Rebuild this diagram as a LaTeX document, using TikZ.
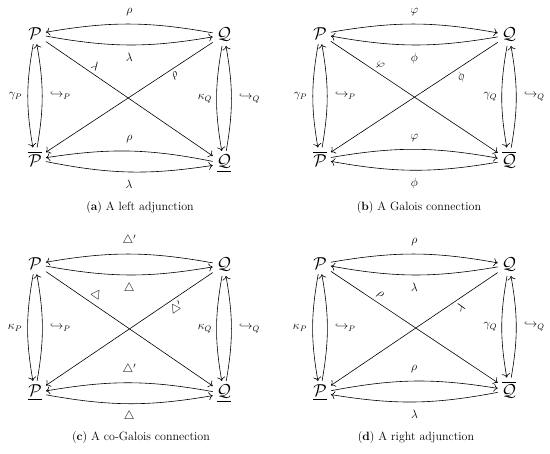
\documentclass[tikz,border=0pt]{standalone}
\usepackage{amsmath}
\usetikzlibrary{arrows.meta}
\tikzset{
  vtx/.style={font=\fontsize{17}{20}\selectfont, inner sep=4pt, anchor=base},
  lab/.style={font=\fontsize{12}{14}\selectfont, inner sep=1.5pt},
  arr/.style={line width=0.6pt, -{Computer Modern Rightarrow[length=4pt,width=8pt]}},
  bend angle=10,
  capt/.style={font=\fontsize{12}{14}\selectfont, inner sep=0pt},
}
\begin{document}
\begin{tikzpicture}[x=1pt,y=1pt]
\useasboundingbox (0,0) rectangle (550,-454);
% ---------- (a)
\begin{scope}
\node[vtx] (aP) at (35,-40) {$\mathcal{P}$};
\node[vtx] (aQ) at (224,-40) {$\mathcal{Q}$};
\node[vtx] (aL) at (35,-167) {$\overline{\mathcal{P}}$};
\node[vtx] (aR) at (224,-167) {$\underline{\mathcal{Q}}$};
\draw[arr] (aQ) to[bend right] node[lab, above=6pt]{$\rho$} (aP);
\draw[arr] (aP) to[bend right] node[lab, below=6pt]{$\lambda$} (aQ);
\draw[arr] (aP) -- node[lab, sloped, above=2pt, pos=0.27]{$\lambda$} (aR);
\draw[arr] (aQ) -- node[lab, sloped, below=2pt, pos=0.25]{$\rho$} (aL);
\draw[arr] (aP) to[bend right] node[lab, left=4pt]{$\gamma_P$} (aL);
\draw[arr] (aL) to[bend right] node[lab, right=6pt]{$\hookrightarrow_P$} (aP);
\draw[arr] (aQ) to[bend right] node[lab, left=3pt]{$\kappa_Q$} (aR);
\draw[arr] (aR) to[bend right] node[lab, right=6pt]{$\hookrightarrow_Q$} (aQ);
\draw[arr] (aR) to[bend right] node[lab, above=6pt]{$\rho$} (aL);
\draw[arr] (aL) to[bend right] node[lab, below=6pt]{$\lambda$} (aR);
\node[capt] (acap) at (140,-208) {(\textbf{a}) A left adjunction};
\end{scope}
% ---------- (b)
\begin{scope}[shift={(285,0)}]
\node[vtx] (bP) at (35,-40) {$\mathcal{P}$};
\node[vtx] (bQ) at (224,-40) {$\mathcal{Q}$};
\node[vtx] (bL) at (35,-167) {$\overline{\mathcal{P}}$};
\node[vtx] (bR) at (224,-167) {$\overline{\mathcal{Q}}$};
\draw[arr] (bP) to[bend left] node[lab, above=6pt]{$\varphi$} (bQ);
\draw[arr] (bQ) to[bend left] node[lab, below=6pt]{$\phi$} (bP);
\draw[arr] (bP) -- node[lab, sloped, above=2pt, pos=0.27]{$\varphi$} (bR);
\draw[arr] (bQ) -- node[lab, sloped, below=2pt, pos=0.25]{$\phi$} (bL);
\draw[arr] (bP) to[bend right] node[lab, left=4pt]{$\gamma_P$} (bL);
\draw[arr] (bL) to[bend right] node[lab, right=6pt]{$\hookrightarrow_P$} (bP);
\draw[arr] (bQ) to[bend right] node[lab, left=3pt]{$\gamma_Q$} (bR);
\draw[arr] (bR) to[bend right] node[lab, right=6pt]{$\hookrightarrow_Q$} (bQ);
\draw[arr] (bL) to[bend left] node[lab, above=6pt]{$\varphi$} (bR);
\draw[arr] (bR) to[bend left] node[lab, below=6pt]{$\phi$} (bL);
\node[capt] (bcap) at (134,-208) {(\textbf{b}) A Galois connection};
\end{scope}
% ---------- (c)
\begin{scope}[shift={(0,-230)}]
\node[vtx] (cP) at (35,-40) {$\mathcal{P}$};
\node[vtx] (cQ) at (224,-40) {$\mathcal{Q}$};
\node[vtx] (cL) at (35,-167) {$\underline{\mathcal{P}}$};
\node[vtx] (cR) at (224,-167) {$\underline{\mathcal{Q}}$};
\draw[arr] (cQ) to[bend right] node[lab, above=6pt]{$\triangle'$} (cP);
\draw[arr] (cP) to[bend right] node[lab, below=6pt]{$\triangle$} (cQ);
\draw[arr] (cP) -- node[lab, sloped, above=2pt, pos=0.27]{$\triangle$} (cR);
\draw[arr] (cQ) -- node[lab, sloped, below=2pt, pos=0.25]{$\triangle'$} (cL);
\draw[arr] (cP) to[bend right] node[lab, left=4pt]{$\kappa_P$} (cL);
\draw[arr] (cL) to[bend right] node[lab, right=6pt]{$\hookrightarrow_P$} (cP);
\draw[arr] (cQ) to[bend right] node[lab, left=3pt]{$\kappa_Q$} (cR);
\draw[arr] (cR) to[bend right] node[lab, right=6pt]{$\hookrightarrow_Q$} (cQ);
\draw[arr] (cR) to[bend right] node[lab, above=6pt]{$\triangle'$} (cL);
\draw[arr] (cL) to[bend right] node[lab, below=6pt]{$\triangle$} (cR);
\node[capt] (ccap) at (141,-208) {(\textbf{c}) A co-Galois connection};
\end{scope}
% ---------- (d)
\begin{scope}[shift={(285,-230)}]
\node[vtx] (dP) at (35,-40) {$\mathcal{P}$};
\node[vtx] (dQ) at (224,-40) {$\mathcal{Q}$};
\node[vtx] (dL) at (35,-167) {$\underline{\mathcal{P}}$};
\node[vtx] (dR) at (224,-167) {$\overline{\mathcal{Q}}$};
\draw[arr] (dP) to[bend left] node[lab, above=6pt]{$\rho$} (dQ);
\draw[arr] (dQ) to[bend left] node[lab, below=6pt]{$\lambda$} (dP);
\draw[arr] (dP) -- node[lab, sloped, above=2pt, pos=0.27]{$\rho$} (dR);
\draw[arr] (dQ) -- node[lab, sloped, below=2pt, pos=0.25]{$\lambda$} (dL);
\draw[arr] (dP) to[bend right] node[lab, left=4pt]{$\kappa_P$} (dL);
\draw[arr] (dL) to[bend right] node[lab, right=6pt]{$\hookrightarrow_P$} (dP);
\draw[arr] (dQ) to[bend right] node[lab, left=3pt]{$\gamma_Q$} (dR);
\draw[arr] (dR) to[bend right] node[lab, right=6pt]{$\hookrightarrow_Q$} (dQ);
\draw[arr] (dL) to[bend left] node[lab, above=6pt]{$\rho$} (dR);
\draw[arr] (dR) to[bend left] node[lab, below=6pt]{$\lambda$} (dL);
\node[capt] (dcap) at (131,-208) {(\textbf{d}) A right adjunction};
\end{scope}
\end{tikzpicture}
\end{document}
